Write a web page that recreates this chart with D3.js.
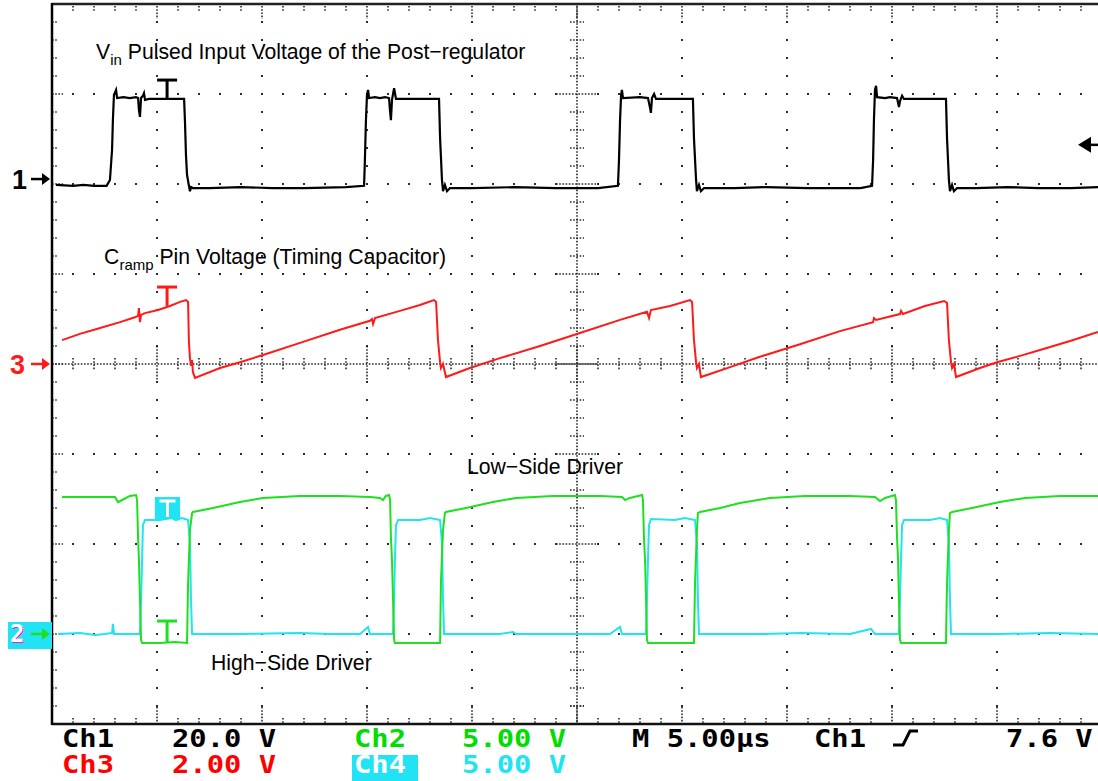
<!DOCTYPE html>
<html><head><meta charset="utf-8">
<script src="https://cdn.jsdelivr.net/npm/d3@7"></script>
<style>html,body{margin:0;padding:0;background:#fff;}svg{display:block;}</style>
</head><body>
<svg id="c" width="1098" height="781"></svg>
<script>
// ---- Data (time in µs, voltage in V) ----
const ch1Trace = [
 [0.19,-0.2],[1.0,-0.4],[1.5,-0.2],[2.0,-0.4],[2.6,-0.4],[2.76,0.9],[2.86,7.6],[2.90,14.2],[2.95,19.8],[3.05,20.9],
 [3.10,19.1],[3.4,19.3],[3.7,19.1],[4.0,19.3],[4.10,19.1],[4.14,16.4],[4.19,14.9],[4.24,19.1],[4.33,19.6],[4.38,20.2],
 [4.43,18.7],[4.62,18.9],[6.29,18.9],[6.33,14.2],[6.38,6.4],[6.43,2.0],[6.52,-0.4],[6.57,-1.6],[6.62,-0.7],[6.71,-0.9],
 [7.5,-0.9],[9.0,-0.7],[10.5,-0.9],[12.0,-0.9],[14.0,-0.7],[14.86,-0.4],[14.90,5.3],[14.95,14.2],[15.00,19.8],[15.05,20.9],
 [15.10,19.1],[15.38,19.3],[15.62,19.1],[15.86,19.3],[16.05,19.1],[16.10,16.0],[16.14,14.2],[16.19,18.7],[16.29,21.3],[16.38,18.9],
 [18.43,18.9],[18.48,10.2],[18.57,0.9],[18.62,-1.6],[18.71,-0.2],[18.81,-1.6],[18.95,-0.9],[20.0,-0.9],[22.0,-0.7],[24.0,-0.9],
 [26.0,-0.9],[26.95,-0.4],[27.00,5.3],[27.05,14.2],[27.10,19.8],[27.14,20.9],[27.19,19.1],[28.0,19.3],[28.38,19.1],[28.48,16.9],
 [28.52,15.8],[28.57,19.1],[28.67,20.0],[28.76,18.9],[30.52,18.9],[30.57,10.2],[30.67,0.9],[30.71,-1.6],[30.81,-0.2],[30.90,-1.6],
 [31.05,-0.9],[32.5,-0.9],[34.0,-0.7],[36.0,-0.9],[38.5,-0.9],[39.05,-0.4],[39.10,5.3],[39.14,14.2],[39.19,20.9],[39.24,21.8],
 [39.29,19.3],[39.67,19.1],[39.90,19.3],[40.24,19.1],[40.33,17.1],[40.38,18.4],[40.48,19.6],[40.57,18.9],[42.57,18.9],[42.62,10.2],
 [42.71,0.9],[42.76,-1.6],[42.86,-0.2],[42.95,-1.6],[43.10,-0.9],[44.0,-0.9],[45.5,-0.7],[47.0,-0.9],[48.5,-0.9],[49.81,-0.7]
];
const ch3Trace = [
 [0.48,0.53],[1.33,0.67],[2.29,0.80],[3.24,0.93],[3.95,1.04],[4.10,1.07],[4.14,1.24],[4.19,0.93],[4.24,1.09],[4.43,1.13],
 [5.05,1.20],[5.62,1.29],[6.10,1.38],[6.38,1.42],[6.48,1.38],[6.52,0.49],[6.57,0.13],[6.62,-0.04],[6.67,0.09],[6.71,-0.18],
 [6.81,-0.31],[8.00,-0.09],[8.95,0.04],[10.05,0.20],[11.81,0.47],[13.71,0.76],[15.14,0.96],[15.24,1.00],[15.29,0.89],[15.38,1.02],
 [16.57,1.18],[17.52,1.31],[18.19,1.42],[18.29,1.38],[18.38,0.53],[18.48,0.04],[18.52,-0.09],[18.62,0.0],[18.76,-0.29],[19.90,-0.09],
 [21.33,0.13],[23.24,0.40],[25.14,0.69],[27.05,0.98],[28.33,1.16],[28.43,1.02],[28.52,1.20],[29.43,1.29],[30.38,1.42],[30.48,1.38],
 [30.57,0.53],[30.67,0.04],[30.71,-0.09],[30.81,0.0],[30.90,-0.29],[32.29,-0.07],[33.71,0.16],[35.62,0.44],[37.52,0.73],[39.10,0.93],
 [39.14,1.02],[39.24,0.98],[40.38,1.11],[40.43,1.18],[40.52,1.11],[41.57,1.29],[42.48,1.40],[42.62,1.36],[42.71,0.53],[42.81,0.04],
 [42.86,-0.09],[42.95,0.0],[43.05,-0.29],[44.19,-0.09],[45.00,0.04],[46.10,0.18],[47.05,0.31],[48.48,0.51],[49.81,0.71]
];
const ch2Trace = [
 [0.48,7.61],[3.00,7.61],[3.14,7.33],[3.43,7.50],[3.71,7.67],[4.00,7.72],[4.05,7.44],[4.10,5.33],[4.14,4.11],[4.19,1.89],
 [4.24,-0.33],[4.29,-0.50],[5.14,-0.50],[5.86,-0.44],[6.43,-0.50],[6.48,2.83],[6.57,5.78],[6.67,6.72],[6.71,6.78],[7.67,7.00],
 [8.95,7.33],[10.05,7.56],[11.81,7.67],[13.71,7.67],[15.14,7.61],[15.62,7.56],[15.76,7.44],[15.90,7.67],[16.05,7.72],[16.10,7.44],
 [16.14,5.33],[16.19,4.11],[16.24,1.89],[16.29,-0.33],[16.33,-0.50],[17.52,-0.50],[18.48,-0.50],[18.52,2.83],[18.62,5.78],[18.71,6.72],
 [18.76,6.78],[19.71,7.00],[21.00,7.33],[22.10,7.56],[23.86,7.67],[26.10,7.67],[27.14,7.61],[27.29,7.44],[27.52,7.56],[28.10,7.72],
 [28.14,7.44],[28.19,5.33],[28.24,4.11],[28.29,1.89],[28.33,-0.33],[28.38,-0.50],[29.67,-0.50],[30.57,-0.50],[30.62,2.83],[30.71,5.78],
 [30.76,6.72],[30.86,6.78],[31.81,7.00],[32.76,7.28],[34.19,7.56],[35.86,7.67],[38.00,7.67],[39.19,7.61],[39.43,7.39],[39.67,7.56],
 [40.14,7.72],[40.19,7.44],[40.24,5.33],[40.29,4.11],[40.33,1.89],[40.38,-0.33],[40.43,-0.50],[41.57,-0.50],[42.57,-0.50],[42.62,2.83],
 [42.71,5.78],[42.76,6.72],[42.86,6.78],[43.81,7.00],[45.14,7.33],[46.33,7.56],[48.00,7.67],[49.81,7.67]
];
const ch4Trace = [
 [0.29,0.0],[1.33,0.06],[2.05,-0.06],[2.52,0.0],[2.86,0.06],[2.90,0.56],[2.95,0.0],[3.95,0.0],[4.19,0.0],[4.24,1.89],
 [4.29,4.11],[4.33,6.06],[4.43,6.33],[5.14,6.33],[5.71,6.44],[5.90,6.33],[6.19,6.44],[6.48,6.33],[6.57,5.06],[6.62,1.89],
 [6.67,0.0],[8.95,0.0],[11.81,0.06],[13.24,0.0],[14.67,0.0],[15.05,0.39],[15.14,0.0],[16.24,0.0],[16.29,1.89],[16.33,4.11],
 [16.38,6.06],[16.48,6.33],[17.52,6.33],[18.00,6.44],[18.48,6.33],[18.57,5.06],[18.62,1.89],[18.67,0.0],[21.33,0.0],[21.95,0.11],
 [22.10,0.0],[24.19,0.0],[26.57,0.0],[27.05,0.39],[27.14,0.0],[28.29,0.0],[28.33,1.89],[28.38,4.11],[28.43,6.06],[28.52,6.39],
 [29.67,6.33],[30.14,6.44],[30.62,6.33],[30.71,5.06],[30.76,1.89],[30.81,0.0],[33.71,0.0],[35.62,0.06],[38.00,0.0],[39.00,0.28],
 [39.19,0.0],[40.33,0.0],[40.38,1.89],[40.43,4.11],[40.48,6.06],[40.57,6.33],[41.81,6.33],[42.29,6.44],[42.62,6.33],[42.71,5.06],
 [42.76,1.89],[42.81,0.0],[45.14,0.0],[47.52,0.06],[49.81,0.0]
];
// Scope settings
const timeDomain = [0, 50];          // 10 div × 5.00 µs
const voltsPerDiv = {ch1: 20, ch2: 5, ch3: 2, ch4: 5};
const groundDiv  = {ch1: 2, ch2: -3, ch3: 0, ch4: -3};
const cursorT = 5.48;
const cursorCh1 = [23.1, 18.9], cursorCh3 = [1.71, 1.29], cursorCh2 = [0.72, -0.5];
const cursorCh4Box = [[4.90, 6.10], [7.61, 6.39]];
const markerCh1Level = 1.1, triggerLevelMark = 8.7;
const traceLabels = [
  {base: "V", sub: "in", rest: " Pulsed Input Voltage of the Post\u2212regulator", t: 2.10, ch: "ch1", v: 27.8},
  {base: "C", sub: "ramp", rest: " Pin Voltage (Timing Capacitor)", t: 2.48, ch: "ch3", v: 2.22},
  {base: "Low\u2212Side Driver", sub: "", rest: "", t: 19.76, ch: "ch2", v: 8.9},
  {base: "High\u2212Side Driver", sub: "", rest: "", t: 7.57, ch: "ch2", v: -2.0}
];
const row1 = [
  {text: "Ch1", x: 62, color: "#000"}, {text: "20.0 V", x: 172, color: "#000"},
  {text: "Ch2", x: 354, color: "#00dd00"}, {text: "5.00 V", x: 462, color: "#00dd00"},
  {text: "M 5.00\u00b5s", x: 632, color: "#000"}, {text: "Ch1", x: 814, color: "#000"},
  {text: "7.6 V", x: 1006, color: "#000"}
];
const row2 = [
  {text: "Ch3", x: 62, color: "#ff0000"}, {text: "2.00 V", x: 172, color: "#ff0000"},
  {text: "Ch4", x: 354, color: "#fff", box: "#22e3f3"}, {text: "5.00 V", x: 462, color: "#22e3f3"}
];

// ---- Layout ----
const X0 = 52, Y0 = 4, DX = 105, DY = 90;
const XR = X0 + 10 * DX, YB = Y0 + 8 * DY;
const svg = d3.select("#c");
svg.append("rect").attr("width", 1098).attr("height", 781).attr("fill", "#fff");

const x = d3.scaleLinear().domain(timeDomain).range([X0, XR]);
const yScale = ch => d3.scaleLinear()
  .domain([(-4 - groundDiv[ch]) * voltsPerDiv[ch], (4 - groundDiv[ch]) * voltsPerDiv[ch]])
  .range([YB, Y0]);
const y = {ch1: yScale("ch1"), ch2: yScale("ch2"), ch3: yScale("ch3"), ch4: yScale("ch4")};

// ---- Graticule ----
const grid = svg.append("g");
const DOT = "#2a2a2a";
function dot(px, py) { grid.append("rect").attr("x", px - 1).attr("y", py - 1).attr("width", 2).attr("height", 2).attr("fill", DOT); }
function dline(x1, y1, x2, y2) {
  grid.append("line").attr("x1", x1).attr("y1", y1).attr("x2", x2).attr("y2", y2)
    .attr("stroke", DOT).attr("stroke-width", 1.6).attr("stroke-dasharray", "1.6,1.6");
}
const cx = X0 + 5 * DX, cy = Y0 + 4 * DY;
for (let i = 1; i < 10; i++) {
  if (i === 5) continue;
  const gx = X0 + i * DX;
  for (let k = 1; k < 40; k++) { const gy = Y0 + k * 18; if (gy !== cy) dot(gx, gy); }
}
for (let j = 1; j < 8; j++) {
  if (j === 4) continue;
  const gy = Y0 + j * DY;
  for (let m = 1; m < 50; m++) { const gx = X0 + m * 21; if (gx !== cx) dot(gx, gy); }
}
// centre lines
dline(cx, Y0, cx, YB);
dline(X0, cy, XR, cy);
for (let k = 1; k < 40; k++) {
  const gy = Y0 + k * 18;
  if (k % 5 === 0) dline(cx - 21, gy, cx + 21, gy); else dline(cx - 7, gy, cx + 7, gy);
}
for (let m = 1; m < 50; m++) {
  const gx = X0 + m * 21;
  if (m % 5 === 0) dline(gx, cy - 18, gx, cy + 18); else dline(gx, cy - 6, gx, cy + 6);
}
// border ticks
for (let m = 1; m < 50; m++) {
  const gx = X0 + m * 21;
  if (m % 5 === 0) { dline(gx, Y0 + 2, gx, Y0 + 15); dline(gx, YB - 17, gx, YB); }
  else { dline(gx, Y0 + 2, gx, Y0 + 7); dline(gx, YB - 6, gx, YB); }
}
for (let k = 1; k < 40; k++) {
  const gy = Y0 + k * 18;
  if (k % 5 === 0) dline(X0, gy, X0 + 11, gy); else dline(X0, gy, X0 + 6, gy);
}
dline(cx - 7, YB - 18, cx + 7, YB - 18);
// frame
grid.append("line").attr("x1", X0).attr("y1", Y0).attr("x2", XR).attr("y2", Y0).attr("stroke", "#222").attr("stroke-width", 2.5);
grid.append("line").attr("x1", X0).attr("y1", YB).attr("x2", XR).attr("y2", YB).attr("stroke", "#111").attr("stroke-width", 2.5);
grid.append("line").attr("x1", X0).attr("y1", Y0 - 1).attr("x2", X0).attr("y2", YB + 1).attr("stroke", "#000").attr("stroke-width", 2.5);

// ---- Traces ----
svg.append("clipPath").attr("id", "clip").append("rect").attr("x", X0 + 1).attr("y", Y0).attr("width", XR - X0).attr("height", YB - Y0);
const traces = svg.append("g").attr("clip-path", "url(#clip)");
function drawTrace(data, ch, color, w) {
  const line = d3.line().x(d => x(d[0])).y(d => y[ch](d[1]));
  traces.append("path").datum(data).attr("d", line).attr("fill", "none")
    .attr("stroke", color).attr("stroke-width", w).attr("stroke-linejoin", "miter");
}
const C1 = "#000", C2 = "#1fe01f", C3 = "#ff1a1a", C4 = "#22e3f3";
drawTrace(ch4Trace, "ch4", C4, 2);
drawTrace(ch2Trace, "ch2", C2, 2);
drawTrace(ch3Trace, "ch3", C3, 2);
drawTrace(ch1Trace, "ch1", C1, 2.2);

// ---- Cursor "I" markers ----
const mk = svg.append("g");
function iMark(ch, lv, color) {
  const xm = x(cursorT);
  mk.append("line").attr("x1", xm - 10).attr("x2", xm + 10).attr("y1", y[ch](lv[0])).attr("y2", y[ch](lv[0]))
    .attr("stroke", color).attr("stroke-width", 3);
  mk.append("line").attr("x1", xm).attr("x2", xm).attr("y1", y[ch](lv[0])).attr("y2", y[ch](lv[1]))
    .attr("stroke", color).attr("stroke-width", 3);
}
iMark("ch1", cursorCh1, C1);
iMark("ch3", cursorCh3, C3);
iMark("ch2", cursorCh2, C2);
{
  const bx0 = x(cursorCh4Box[0][0]), bx1 = x(cursorCh4Box[0][1]);
  const by0 = y.ch4(cursorCh4Box[1][0]), by1 = y.ch4(cursorCh4Box[1][1]);
  mk.append("rect").attr("x", bx0).attr("y", by0).attr("width", bx1 - bx0).attr("height", by1 - by0).attr("fill", C4);
  const xm = (bx0 + bx1) / 2;
  mk.append("line").attr("x1", xm - 8).attr("x2", xm + 8).attr("y1", by0 + 4).attr("y2", by0 + 4).attr("stroke", "#fff").attr("stroke-width", 3);
  mk.append("line").attr("x1", xm).attr("x2", xm).attr("y1", by0 + 4).attr("y2", by1 - 2).attr("stroke", "#fff").attr("stroke-width", 3);
}

// ---- Channel ground markers ----
function arrow(g, yy, color) {
  g.append("line").attr("x1", 31).attr("x2", 43).attr("y1", yy).attr("y2", yy).attr("stroke", color).attr("stroke-width", 2.5);
  g.append("path").attr("d", `M42,${yy - 6}L50,${yy}L42,${yy + 6}Z`).attr("fill", color);
}
const gm = svg.append("g");
{
  const yy = y.ch1(markerCh1Level);
  gm.append("text").attr("x", 12).attr("y", yy + 10).attr("font-family", "Liberation Sans, Arial, sans-serif")
    .attr("font-weight", "bold").attr("font-size", 27).attr("fill", C1).text("1");
  arrow(gm, yy, C1);
}
{
  const yy = y.ch3(0);
  gm.append("text").attr("x", 10).attr("y", yy + 10).attr("font-family", "Liberation Sans, Arial, sans-serif")
    .attr("font-weight", "bold").attr("font-size", 27).attr("fill", C3).text("3");
  arrow(gm, yy, C3);
}
{
  const yy = y.ch2(0);
  gm.append("rect").attr("x", 8).attr("y", yy - 12).attr("width", 44).attr("height", 27).attr("fill", C4);
  gm.append("text").attr("x", 11).attr("y", yy + 9).attr("font-family", "DejaVu Sans Mono, monospace")
    .attr("font-weight", "bold").attr("font-size", 24).attr("fill", "#e020e0").text("2");
  gm.append("text").attr("x", 10).attr("y", yy + 8).attr("font-family", "DejaVu Sans Mono, monospace")
    .attr("font-weight", "bold").attr("font-size", 24).attr("fill", "#fff").text("2");
  arrow(gm, yy, C2);
}
// trigger level arrow (right edge)
{
  const yy = y.ch1(triggerLevelMark);
  gm.append("path").attr("d", `M1078,${yy}L1091,${yy - 8}L1091,${yy + 8}Z`).attr("fill", "#000");
  gm.append("line").attr("x1", 1088).attr("x2", 1098).attr("y1", yy).attr("y2", yy).attr("stroke", "#000").attr("stroke-width", 2.5);
}

// ---- Trace labels ----
const lab = svg.append("g").attr("font-family", "Liberation Sans, Arial, Helvetica, sans-serif").attr("font-size", 21.2).attr("fill", "#000");
traceLabels.forEach(L => {
  const t = lab.append("text").attr("x", x(L.t)).attr("y", y[L.ch](L.v));
  t.append("tspan").text(L.base);
  if (L.sub) {
    t.append("tspan").attr("font-size", 15).attr("dy", 6).text(L.sub);
    t.append("tspan").attr("dy", -6).text(L.rest);
  }
});

// ---- Status rows ----
const st = svg.append("g").attr("font-family", "DejaVu Sans Mono, monospace").attr("font-weight", "bold")
  .attr("font-size", 24);
const SX = 1.2;
row1.forEach(r => st.append("text").attr("transform", `translate(${r.x},747) scale(${SX},1)`).attr("fill", r.color).text(r.text));
row2.forEach(r => {
  if (r.box) st.append("rect").attr("x", r.x - 2).attr("y", 755).attr("width", 66).attr("height", 26).attr("fill", r.box);
  st.append("text").attr("transform", `translate(${r.x},773) scale(${SX},1)`).attr("fill", r.color).text(r.text);
});
// trigger slope symbol
svg.append("path").attr("d", "M893,745L903,745L910,731L918,731").attr("fill", "none").attr("stroke", "#000").attr("stroke-width", 3);
</script>
</body></html>
